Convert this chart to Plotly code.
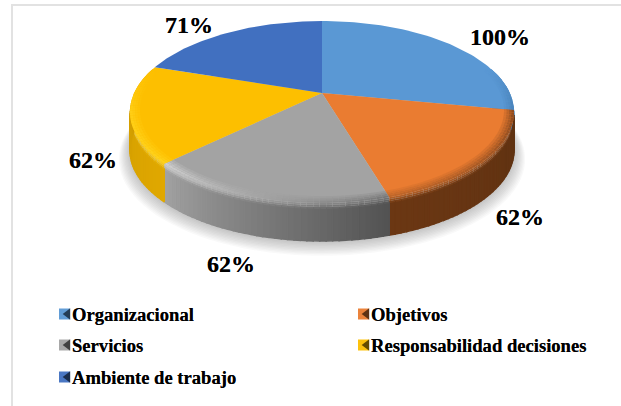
import math
import plotly.graph_objects as go

categories = ["Organizacional", "Objetivos", "Servicios", "Responsabilidad decisiones", "Ambiente de trabajo"]
values = [100, 62, 62, 62, 71]
top_colors = ["#5a98d4", "#ea7c31", "#a3a3a3", "#fdbf00", "#4170c0"]
side_left = ["#4a86bd", "#6b3713", "#a2a2a2", "#e0a800", "#35609f"]
side_right = ["#2f6aa0", "#5f3212", "#525252", "#cc9a00", "#35609f"]
rim_left = ["#4a84bb", "#c0672a", "#cfcfcf", "#ffd21a", "#4170c0"]
rim_right = ["#3f76a8", "#8e4c20", "#777777", "#ffca10", "#4170c0"]
label_pos = [(500, 37), (520, 217), (231, 264), (93, 160), (189, 25)]
legend_pos = [(64.5, 314), (363.5, 314), (64.5, 345), (363.5, 345), (64.5, 377)]

W, H = 621, 406
CX, CY, A, B, C, DEPTH = 322, 93, 0.2088, 87.0, 187.8, 38
TEXT_SHADOW = "0 0 0.6px rgba(0,0,0,0.75)"


def project(theta, r=1.0, dy=0.0):
    u, v = r * math.sin(theta), -r * math.cos(theta)
    w = 1 - A * v
    return CX + C * u / w, CY + B * v / w + dy


def to_rgb(h):
    return tuple(int(h[i:i + 2], 16) for i in (1, 3, 5))


def mix(c1, c2, t):
    a, b = to_rgb(c1), to_rgb(c2)
    return "#%02x%02x%02x" % tuple(round(a[i] + (b[i] - a[i]) * t) for i in range(3))


fig = go.Figure()


def poly(pts, color, line=True):
    xs = [p[0] for p in pts] + [pts[0][0]]
    ys = [p[1] for p in pts] + [pts[0][1]]
    fig.add_trace(go.Scatter(
        x=xs, y=ys, mode="lines", fill="toself", fillcolor=color,
        line=dict(color=color, width=1.5 if line else 0),
        hoverinfo="skip", showlegend=False))


# angular extents come from the values
total = sum(values)
edges = [0.0]
for val in values:
    edges.append(edges[-1] + 2 * math.pi * val / total)

# soft shadow beneath the disc
for k in range(10, 0, -1):
    r = 1 + 0.0055 * k
    pts = [project(2 * math.pi * i / 120, r, DEPTH + 1 + 0.6 * k) for i in range(120)]
    xs = [p[0] for p in pts]
    ys = [p[1] for p in pts]
    fig.add_trace(go.Scatter(x=xs + xs[:1], y=ys + ys[:1], mode="none", fill="toself",
                             fillcolor="rgba(90,90,90,0.035)", hoverinfo="skip", showlegend=False))

# side wall
SEG = 40
for i in range(len(values)):
    a0, a1 = edges[i], edges[i + 1]
    for s in range(SEG):
        t0, t1 = a0 + (a1 - a0) * s / SEG, a0 + (a1 - a0) * (s + 1) / SEG
        if math.cos((t0 + t1) / 2) > 0.3:
            continue
        f = (s + 0.5) / SEG
        f = 1 - f if i != 3 else f
        col = mix(side_left[i], side_right[i], f)
        rim = mix(rim_left[i], rim_right[i], f)
        strength = min(1, max(0, (0.3 - math.cos((t0 + t1) / 2)) / 0.5))
        ys_bands = [0, 2, 4, 6]
        poly([project(t0, 1, 5), project(t1, 1, 5), project(t1, 1, DEPTH), project(t0, 1, DEPTH)], col)
        for b in range(len(ys_bands) - 1):
            c = mix(mix(col, rim, strength), col, (b + 0.5) / (len(ys_bands) - 1))
            poly([project(t0, 1, ys_bands[b]), project(t1, 1, ys_bands[b]),
                  project(t1, 1, ys_bands[b + 1]), project(t0, 1, ys_bands[b + 1])], c, line=False)

# top faces
for i in range(len(values)):
    a0, a1 = edges[i], edges[i + 1]
    n = 60
    pts = [(CX, CY)] + [project(a0 + (a1 - a0) * k / n) for k in range(n + 1)]
    poly(pts, top_colors[i], line=False)

# bevel along the front rim of the top faces
radii = [0.95, 0.962, 0.974, 0.986, 1.0]
for i in range(len(values)):
    a0, a1 = edges[i], edges[i + 1]
    for s in range(SEG):
        t0, t1 = a0 + (a1 - a0) * s / SEG, a0 + (a1 - a0) * (s + 1) / SEG
        strength = min(1, max(0, (0.3 - math.cos((t0 + t1) / 2)) / 0.5))
        if strength <= 0:
            continue
        f = (s + 0.5) / SEG
        f = 1 - f if i != 3 else f
        rim = mix(rim_left[i], rim_right[i], f)
        for b in range(len(radii) - 1):
            c = mix(top_colors[i], rim, strength * (b + 1) / (len(radii) - 1))
            poly([project(t0, radii[b]), project(t1, radii[b]),
                  project(t1, radii[b + 1]), project(t0, radii[b + 1])], c, line=False)

# legend swatches
for i, name in enumerate(categories):
    x, y = legend_pos[i]
    fig.add_trace(go.Scatter(x=[x], y=[y], mode="markers", name=name, hoverinfo="skip", showlegend=False,
                             marker=dict(symbol="square", size=11, color=mix(top_colors[i], "#ffffff", 0.05), line=dict(width=0))))
    fig.add_trace(go.Scatter(x=[x + 3.2], y=[y], mode="markers", hoverinfo="skip", showlegend=False,
                             marker=dict(symbol="triangle-left", size=10, color=mix(top_colors[i], "#000000", 0.6), line=dict(width=0))))
    fig.add_annotation(x=x + 5, y=y, text=f"<b>{name}</b>", showarrow=False, xanchor="left", yanchor="middle",
                       font=dict(family="Liberation Serif", size=18.6, color="#000000", shadow=TEXT_SHADOW))

# data labels
for val, (x, y) in zip(values, label_pos):
    fig.add_annotation(x=x, y=y, text=f"<b>{val}%</b>", showarrow=False, xanchor="center", yanchor="middle",
                       font=dict(family="Liberation Serif", size=24, color="#000000", shadow=TEXT_SHADOW))

fig.update_layout(
    width=W, height=H, margin=dict(l=0, r=0, t=0, b=0, pad=0),
    paper_bgcolor="#ffffff", plot_bgcolor="#ffffff", showlegend=False,
    xaxis=dict(range=[0, W], visible=False, fixedrange=True),
    yaxis=dict(range=[H, 0], visible=False, fixedrange=True),
    shapes=[
        dict(type="line", x0=12, x1=12, y0=5, y1=H, line=dict(color="#e2e2e2", width=2)),
        dict(type="line", x0=11, x1=W, y0=5, y1=5, line=dict(color="#e2e2e2", width=2)),
    ],
)
fig.write_html("out.html", config=dict(displayModeBar=False),
               post_script="document.body.style.margin='0';document.documentElement.style.overflow='hidden';")
